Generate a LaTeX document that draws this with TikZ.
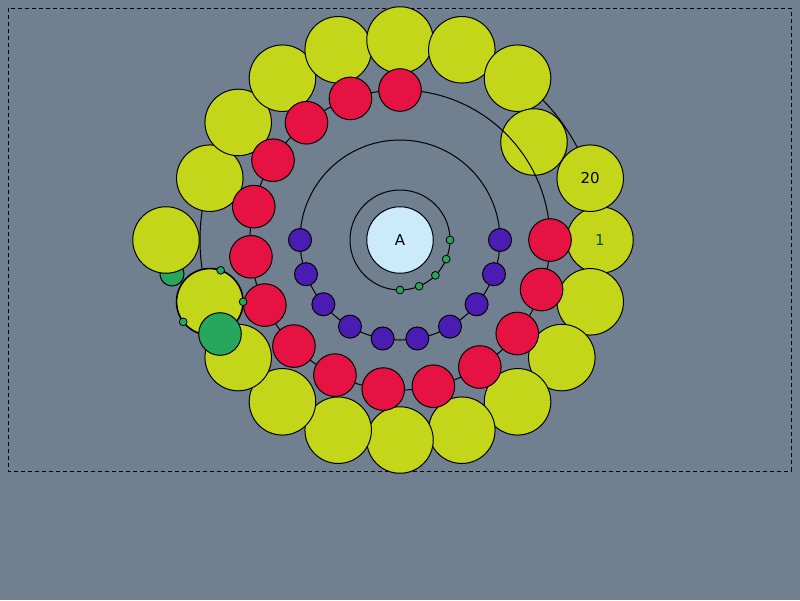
\documentclass[tikz,border=0pt]{standalone}
\usepackage{fontspec}
\setmainfont{DejaVu Sans}
\usetikzlibrary{calc}
\definecolor{bg}{RGB}{112,128,144}
\definecolor{yel}{RGB}{196,214,26}
\definecolor{redc}{RGB}{230,18,66}
\definecolor{purp}{RGB}{74,28,180}
\definecolor{grn}{RGB}{39,166,94}
\definecolor{lblue}{RGB}{204,235,250}
\definecolor{lblgreen}{RGB}{20,70,20}
\tikzset{
  ball/.style={circle, draw=black, line width=1pt, inner sep=0pt, font=\fontsize{15}{15}\selectfont},
  ybig/.style={ball, fill=yel, minimum size=66.5pt},
  rmid/.style={ball, fill=redc, minimum size=42.6pt},
  psmall/.style={ball, fill=purp, minimum size=23pt},
  gdot/.style={ball, fill=grn, minimum size=7.8pt, line width=0.8pt},
  gmid/.style={ball, fill=grn, minimum size=42.6pt},
  gsmall/.style={ball, fill=grn, minimum size=24pt},
  ring/.style={draw=black, line width=1pt},
}
\begin{document}
\begin{tikzpicture}[x=1pt,y=-1pt]
\fill[bg] (0,0) rectangle (800,600);
\useasboundingbox (0,0) rectangle (800,600);
\draw[line width=1pt, dash pattern=on 4pt off 3pt] (8,8) rectangle (791,471);
\coordinate (c) at (400,240);
% outer ring
\draw[ring] (c) circle[radius=200pt];
\node[gsmall] (gs) at (172,274) {};
% yellow circles
\foreach \k in {1,...,20}{
  \pgfmathsetmacro{\ang}{18*(\k-1)}
  \ifnum\k=11
    \node[ybig] (y\k) at (166,240) {};
  \else\ifnum\k=19
    \node[ybig] (y\k) at (534,142) {};
  \else\ifnum\k=10
    \node[ybig, line width=1.6pt] (y\k) at ($(c)+(\ang:200)$) {};
  \else
    \node[ybig] (y\k) at ($(c)+(\ang:200)$) {};
  \fi\fi\fi
}
\node[font=\fontsize{15}{15}\selectfont, text=lblgreen] (l1) at (y1) {1};
\node[font=\fontsize{15}{15}\selectfont, text=black] (l20) at (y20) {20};
% red ring
\draw[ring] (c) circle[radius=150pt];
\foreach \j in {0,...,14}{
  \pgfmathsetmacro{\ang}{\j*270/14}
  \node[rmid] (r\j) at ($(c)+(\ang:150)$) {};
}
% purple ring
\draw[ring] (c) circle[radius=100pt];
\foreach \j in {0,...,9}{
  \pgfmathsetmacro{\ang}{\j*20}
  \node[psmall] (p\j) at ($(c)+(\ang:100)$) {};
}
% inner ring
\draw[ring] (c) circle[radius=50pt];
\foreach \j in {0,...,4}{
  \pgfmathsetmacro{\ang}{\j*22.5}
  \node[gdot] (g\j) at ($(c)+(\ang:50)$) {};
}
\node[ball, fill=lblue, minimum size=66.5pt] (A) at (c) {A};
% big green
\node[gmid] (gm) at (220,334) {};
% dots on yellow 10
\node[gdot] (d1) at ($(y10.center)+(-71:33.3)$) {};
\node[gdot] (d2) at ($(y10.center)+(0:33.3)$) {};
\node[gdot] (d3) at ($(y10.center)+(143:33.3)$) {};
\end{tikzpicture}
\end{document}
